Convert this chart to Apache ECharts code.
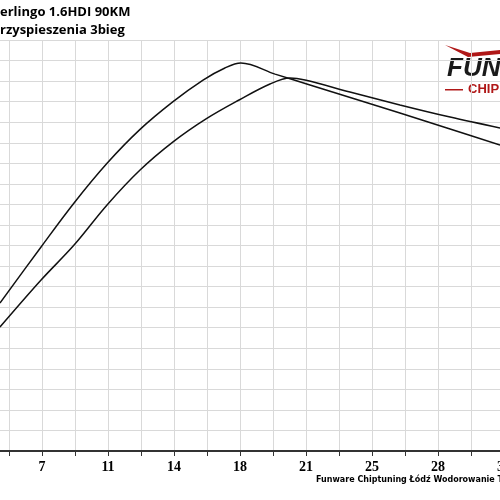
<!DOCTYPE html>
<html>
<head>
<meta charset="utf-8">
<script src="https://cdn.jsdelivr.net/npm/echarts@6/dist/echarts.min.js"></script>
<style>html,body{margin:0;padding:0;background:#fff}#main{width:500px;height:500px}</style>
</head>
<body>
<div id="main"></div>
<script>
// krzywe przyspieszenia (x, y)
var curveA = [[4.77,72.0],[6.95,99.3],[8.70,120.7],[10.45,140.0],[12.20,156.5],[13.95,170.0],[15.54,180.5],[16.70,186.4],[17.55,188.8],[19.36,183.4],[21.21,178.1],[23.60,171.3],[25.98,164.5],[28.64,156.7],[31.29,148.9]];
var curveB = [[4.77,60.3],[6.95,83.2],[8.70,100.2],[10.45,119.7],[12.20,136.7],[13.95,150.4],[15.70,161.6],[17.45,170.8],[19.09,178.6],[20.15,181.5],[20.95,180.5],[23.33,174.7],[25.98,168.4],[28.64,162.5],[31.29,157.2]];
var tickLabels = [7, 11, 14, 18, 21, 25, 28, 32];

var myChart = echarts.init(document.getElementById('main'));
var option = {
    animation: false,
    grid: {left: -24, right: -37, top: 40, bottom: 49, outerBoundsMode: 'none', containLabel: false},
    xAxis: {
        type: 'value', min: 3.5, max: 33.25, interval: 1.75,
        axisLine: {lineStyle: {color: '#333', width: 2}},
        axisTick: {length: 5, lineStyle: {color: '#333'}},
        splitLine: {lineStyle: {color: '#d9d9d9'}},
        axisLabel: {
            fontFamily: 'Liberation Serif', fontWeight: 'bold', fontSize: 14, color: '#000', margin: 9,
            hideOverlap: false,
            formatter: function (v) {
                var k = Math.round(v / 3.5);
                if (Math.abs(v - k * 3.5) > 0.01 || k < 2) return '';
                return tickLabels[k - 2];
            }
        }
    },
    yAxis: {
        type: 'value', min: 0, max: 200, interval: 10,
        axisLine: {show: false}, axisTick: {show: false}, axisLabel: {show: false},
        splitLine: {lineStyle: {color: '#d9d9d9'}}
    },
    series: [
        {type: 'line', data: curveA, smooth: 0.35, symbol: 'none', lineStyle: {color: '#111', width: 1.5}},
        {type: 'line', data: curveB, smooth: 0.35, symbol: 'none', lineStyle: {color: '#111', width: 1.5}}
    ],
    graphic: [
        {type: 'text', left: 0, top: 6, style: {text: 'erlingo 1.6HDI 90KM', font: 'bold 13px "Open Sans"', fill: '#000'}},
        {type: 'text', left: 0, top: 24, style: {text: 'rzyspieszenia 3bieg', font: 'bold 13px "Open Sans"', fill: '#000'}},
        {type: 'text', left: 316, top: 476, style: {text: 'Funware Chiptuning Łódź Wodorowanie Tel', font: 'bold 8px "DejaVu Sans"', fill: '#000'}},
        {type: 'text', left: 447, top: 56, style: {text: 'FUN', font: 'italic bold 26px "Liberation Sans"', fill: '#1a1a1a'}},
        {type: 'text', left: 468, top: 83, style: {text: 'CHIP', font: 'bold 13px "Liberation Sans"', fill: '#b01818'}},
        {type: 'rect', shape: {x: 445, y: 89, width: 18, height: 1.5}, style: {fill: '#b01818'}},
        {type: 'polygon', shape: {points: [[445,45],[470,53],[500,50],[500,54],[468,57]]}, style: {fill: '#b01818'}}
    ]
};
myChart.setOption(option);
</script>
</body>
</html>
